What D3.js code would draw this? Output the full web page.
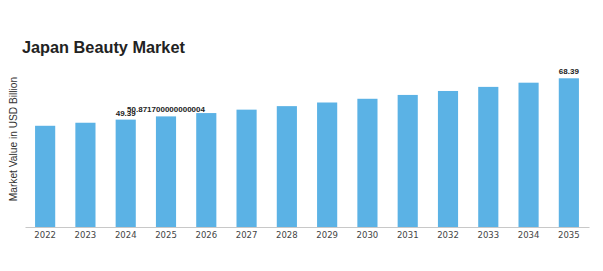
<!DOCTYPE html>
<html>
<head>
<meta charset="utf-8">
<script src="https://cdn.jsdelivr.net/npm/d3@7"></script>
<style>
  html, body { margin: 0; padding: 0; background: #fff; }
  svg { display: block; }
</style>
</head>
<body>
<svg id="chart" width="603" height="271"></svg>
<script>
const years = ["2022","2023","2024","2025","2026","2027","2028","2029","2030","2031","2032","2033","2034","2035"];
const values = [46.55, 47.95, 49.39, 50.871700000000004, 52.40, 53.97, 55.59, 57.26, 58.97, 60.74, 62.56, 64.44, 66.37, 68.39];
const labelledYears = ["2024", "2025", "2035"];
const title = "Japan Beauty Market";
const yTitle = "Market Value in USD Billion";

const svg = d3.select("#chart");
const x = d3.scaleBand().domain(years).range([25, 589]).paddingInner(0.5).paddingOuter(0.25);
const y = d3.scaleLinear().domain([0, d3.max(values)]).range([227, 78.3]);

svg.append("text")
  .attr("x", 22).attr("y", 53)
  .attr("font-family", "Liberation Sans, Arial, sans-serif")
  .attr("font-weight", "bold").attr("font-size", 16.3)
  .attr("fill", "#222")
  .text(title);

svg.append("text")
  .attr("transform", "translate(16.5,139) rotate(-90)")
  .attr("text-anchor", "middle")
  .attr("font-family", "Liberation Sans, Arial, sans-serif")
  .attr("font-size", 10.2)
  .attr("fill", "#333")
  .text(yTitle);

const data = years.map((yr, i) => ({ year: yr, value: values[i] }));

svg.append("g").selectAll("rect").data(data).join("rect")
  .attr("x", d => x(d.year))
  .attr("y", d => y(d.value))
  .attr("width", x.bandwidth())
  .attr("height", d => y(0) - y(d.value))
  .attr("fill", "#5BB2E5");

svg.append("g").selectAll("text").data(data.filter(d => labelledYears.includes(d.year))).join("text")
  .attr("x", d => x(d.year) + x.bandwidth() / 2)
  .attr("y", d => y(d.value) - 4)
  .attr("text-anchor", "middle")
  .attr("font-family", "Liberation Sans, Arial, sans-serif")
  .attr("font-weight", "bold")
  .attr("font-size", 8)
  .attr("fill", "#222")
  .text(d => String(d.value));

const xAxis = svg.append("g")
  .attr("transform", "translate(0,227)")
  .call(d3.axisBottom(x).tickSize(0).tickPadding(5));
xAxis.select(".domain").attr("stroke", "#c8c8c8").attr("stroke-width", 1.2);
xAxis.selectAll("text")
  .attr("font-family", "DejaVu Sans, sans-serif")
  .attr("font-size", 8.5)
  .attr("fill", "#444");
</script>
</body>
</html>
